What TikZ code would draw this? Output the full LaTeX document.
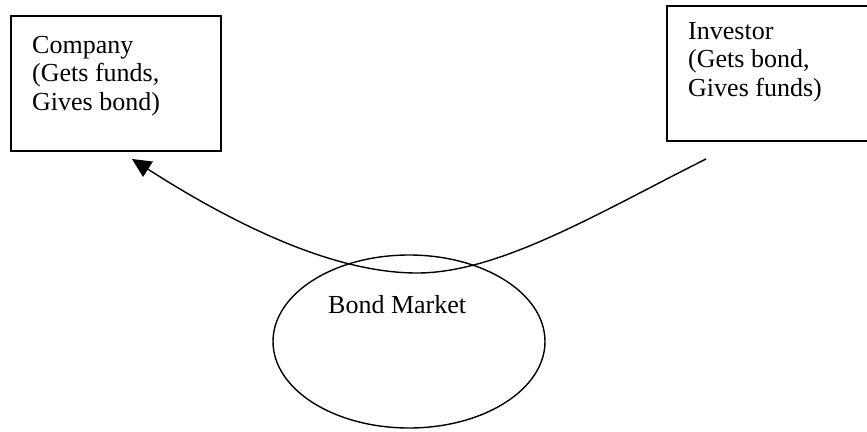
\documentclass[tikz,border=0pt]{standalone}
\usepackage{fontspec}
\setmainfont{Liberation Serif}
\usetikzlibrary{shapes.geometric,arrows.meta}
\begin{document}
\begin{tikzpicture}[x=1pt,y=-1pt,
  boxshape/.style={draw, line width=1.6pt, rectangle, inner sep=0pt, anchor=north west},
  lbl/.style={anchor=base west, inner sep=0pt, font=\fontsize{26}{28.5}\selectfont},
  flow/.style={line width=1.4pt, -{Triangle[length=19pt,width=18pt]}}
]
  \useasboundingbox[fill=white] (0,0) rectangle (867,431);
  \clip (0,0) rectangle (867,431);

  % Company box and its caption
  \node[boxshape, minimum width=210pt, minimum height=135pt] (company) at (10,15) {};
  \node[lbl] (companytext) at (32,53)
    {\vtop{\baselineskip=28.5pt\hbox{Company}\hbox{(Gets funds,}\hbox{Gives bond)}}};

  % Investor box and its caption (runs off the right edge)
  \node[boxshape, minimum width=204pt, minimum height=135pt] (investor) at (666,5) {};
  \node[lbl] (investortext) at (688,39)
    {\vtop{\baselineskip=28.5pt\hbox{Investor}\hbox{(Gets bond,}\hbox{Gives funds)}}};

  % Market ellipse
  \node[draw, ellipse, line width=1.4pt, inner sep=0pt,
        minimum width=272pt, minimum height=173pt] (market) at (409,341.5) {};
  \node[lbl] (markettext) at (328,313) {Bond Market};

  % Flow of funds from investor through the market to the company
  \coordinate (from) at (706,159);
  \coordinate (low) at (417,273);
  \coordinate (to) at (132,159);
  \draw[flow] (from) .. controls (600,212) and (500,273) .. (low)
                     .. controls (340,273) and (246,232) .. (to);
\end{tikzpicture}
\end{document}
